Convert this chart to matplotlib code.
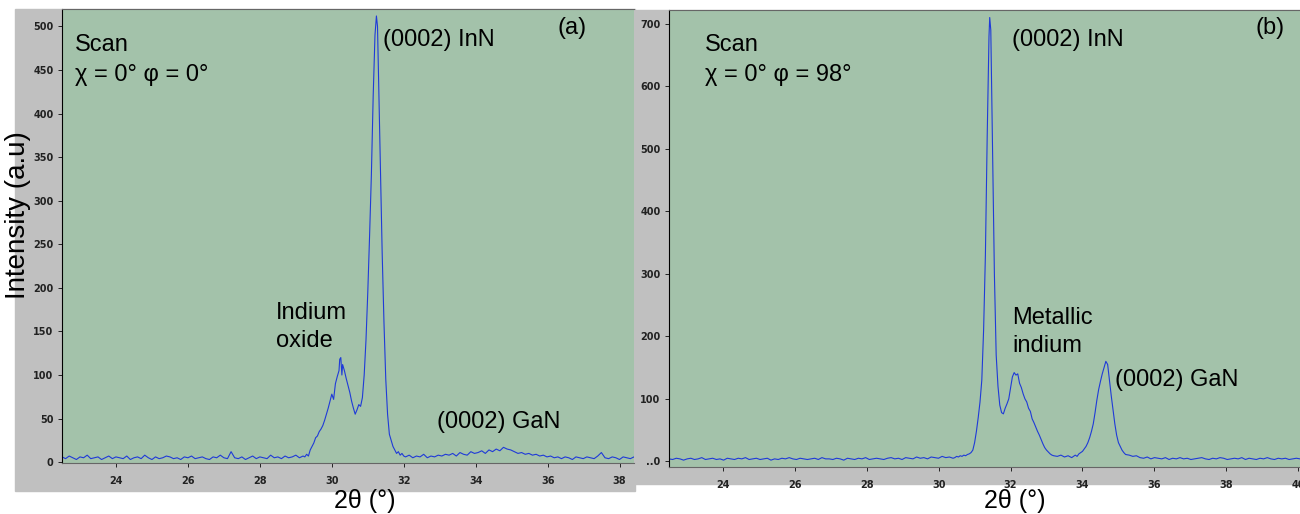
import numpy as np
import matplotlib.pyplot as plt
from matplotlib.patches import Rectangle

# ---- data ----
# panel (a): chi = 0, phi = 0
a_base1_y = [6, 4, 7, 5, 3, 6, 5, 8, 4, 5, 6, 3, 5, 7, 4, 6, 5, 4, 7, 3, 5, 6, 4, 8, 5, 3,
             6, 4, 5, 7, 6, 4, 5, 3, 6, 5, 7, 4, 5, 6, 4, 3, 6, 5, 8, 5, 4, 12, 5, 4, 6, 3,
             5, 7, 4, 6, 5, 4, 8, 5, 6, 4, 7, 5, 6, 8, 5, 7]
a_peak_x = [29.25, 29.3, 29.35, 29.4, 29.45, 29.5, 29.55, 29.6, 29.65, 29.7, 29.75, 29.8,
            29.85, 29.9, 29.95, 30.0, 30.05, 30.1, 30.15, 30.2, 30.22, 30.25, 30.28, 30.3,
            30.35, 30.4, 30.45, 30.5, 30.55, 30.6, 30.65, 30.7, 30.75, 30.8, 30.85, 30.9,
            30.95, 31.0, 31.05, 31.1, 31.15, 31.2, 31.24, 31.27, 31.3, 31.35, 31.4, 31.45,
            31.5, 31.55, 31.6, 31.65, 31.7, 31.75, 31.8, 31.85, 31.9, 31.95, 32.0]
a_peak_y = [6, 9, 7, 14, 18, 22, 28, 30, 35, 38, 42, 48,
            55, 62, 70, 78, 72, 90, 98, 105, 118, 120, 100, 112,
            105, 96, 88, 80, 70, 62, 55, 60, 66, 64, 74, 100,
            140, 195, 260, 330, 420, 490, 512, 500, 440, 340, 240, 160,
            95, 55, 32, 25, 18, 14, 10, 12, 8, 10, 7]
a_base2_y = [6, 8, 5, 7, 6, 9, 5, 7, 6, 8, 7, 9, 8, 10, 7, 11, 9, 8, 12, 10,
             11, 13, 10, 14, 12, 15, 13, 17, 15, 14, 12, 10, 11, 9, 10, 8, 9, 7, 8, 6,
             7, 5, 6, 4, 6, 5, 3, 6, 5, 4, 6, 5, 4, 7, 11, 5, 4, 6, 5, 3, 6, 5, 4, 6]

# panel (b): chi = 0, phi = 98
b_base1_y = [4, 3, 5, 4, 2, 4, 5, 3, 4, 6, 3, 4, 5, 3, 4, 2, 5, 4, 3, 5, 4, 6, 3, 4, 5, 3,
             4, 5, 2, 4, 3, 5, 4, 6, 4, 3, 5, 4, 3, 4, 5, 3, 6, 4, 4, 3, 5, 4, 2, 5, 4, 3,
             5, 4, 6, 3, 4, 5, 4, 3, 5, 6, 4, 5, 3, 6, 5, 4, 7, 5, 6, 4, 7, 6, 5, 8, 6, 7, 5]
b_peak_x = [30.45, 30.5, 30.55, 30.6, 30.65, 30.7, 30.75, 30.8, 30.85, 30.9, 30.95, 31.0,
            31.05, 31.1, 31.15, 31.2, 31.25, 31.3, 31.35, 31.4, 31.42, 31.45, 31.5, 31.55,
            31.6, 31.65, 31.7, 31.75, 31.8, 31.85, 31.9, 31.95, 32.0, 32.05, 32.1, 32.15,
            32.2, 32.25, 32.3, 32.35, 32.4, 32.45, 32.5, 32.55, 32.6, 32.65, 32.7, 32.75,
            32.8, 32.85, 32.9, 32.95, 33.0, 33.05, 33.1, 33.15, 33.2, 33.3, 33.4, 33.5,
            33.6, 33.7, 33.8, 33.85, 33.9, 33.95, 34.0, 34.05, 34.1, 34.15, 34.2, 34.25,
            34.3, 34.35, 34.4, 34.45, 34.5, 34.55, 34.6, 34.65, 34.7, 34.75, 34.8, 34.85,
            34.9, 34.95, 35.0, 35.05, 35.1, 35.15, 35.2, 35.3, 35.4, 35.5, 35.6]
b_peak_y = [6, 8, 7, 9, 8, 10, 9, 11, 12, 14, 18, 30,
            48, 70, 95, 130, 210, 330, 520, 680, 710, 690, 500, 300,
            170, 120, 90, 78, 76, 85, 92, 100, 118, 135, 142, 138,
            140, 125, 118, 108, 100, 95, 85, 80, 68, 62, 55, 48,
            42, 35, 28, 22, 18, 15, 12, 10, 9, 8, 10, 7,
            9, 6, 10, 8, 12, 14, 16, 20, 24, 30, 38, 48,
            60, 78, 98, 115, 128, 140, 150, 160, 155, 130, 105, 82,
            60, 42, 30, 24, 18, 14, 11, 10, 8, 9, 6]
b_base2_y = [5, 7, 4, 6, 5, 4, 6, 3, 5, 4, 6, 4, 5, 3, 4, 5, 6, 4, 3, 5, 4, 6,
             5, 3, 4, 5, 4, 6, 3, 5, 4, 3, 5, 4, 6, 4, 3, 5, 4, 5, 3, 4, 5, 4]

a_x = np.concatenate([np.linspace(22.5, 29.2, len(a_base1_y)), a_peak_x,
                      np.linspace(32.05, 38.4, len(a_base2_y))])
a_y = np.concatenate([a_base1_y, a_peak_y, a_base2_y])
b_x = np.concatenate([np.linspace(22.5, 30.4, len(b_base1_y)), b_peak_x,
                      np.linspace(35.7, 40.05, len(b_base2_y))])
b_y = np.concatenate([b_base1_y, b_peak_y, b_base2_y])

x_ticks = [24, 26, 28, 30, 32, 34, 36, 38, 40]
a_yticks = [0, 50, 100, 150, 200, 250, 300, 350, 400, 450, 500]
b_yticks = [0, 100, 200, 300, 400, 500, 600, 700]
b_yticklabels = ['..0', '100', '200', '300', '400', '500', '600', '700']

GREEN = '#a3c2aa'
GRAY = '#c0c0c0'
BLUE = '#1f3ad8'
W, H = 1300, 514

plt.rcParams['font.family'] = ['Liberation Sans', 'DejaVu Sans']
fig = plt.figure(figsize=(13, 5.14), dpi=100)


def px(x0, y0, x1, y1):
    # pixel box (top-left origin) -> figure fraction rect
    return [x0 / W, 1 - y1 / H, (x1 - x0) / W, (y1 - y0) / H]


# gray frames behind each panel
for box in [(15, 9, 635, 491), (635, 10, 1300, 484)]:
    r = px(*box)
    fig.patches.append(Rectangle((r[0], r[1]), r[2], r[3],
                                 transform=fig.transFigure, color=GRAY, zorder=-5))

ax_a = fig.add_axes(px(62, 9, 634, 463))
ax_b = fig.add_axes(px(669, 10, 1300, 467))

tick_font = {'family': ['DejaVu Sans Condensed', 'DejaVu Sans'],
             'weight': 'bold', 'size': 7}

for ax, x, y in [(ax_a, a_x, a_y), (ax_b, b_x, b_y)]:
    ax.set_zorder(2)
    ax.set_facecolor(GREEN)
    ax.plot(x, y, color=BLUE, lw=0.8)
    ax.set_xticks(x_ticks)
    ax.tick_params(direction='out', length=3, width=0.7, colors='#222222')
    ax.tick_params(axis='x', pad=6)
    ax.tick_params(axis='y', pad=3)
    for s in ['top', 'bottom']:
        ax.spines[s].set_color('#666666')
        ax.spines[s].set_linewidth(0.8)
    ax.spines['left'].set_color('black')
    ax.spines['right'].set_visible(False)

ax_a.set_xlim(22.5, 38.4)
ax_a.set_ylim(-1, 520)
ax_a.set_yticks(a_yticks)
ax_b.set_xlim(22.5, 40.05)
ax_b.set_ylim(-9, 722)
ax_b.set_yticks(b_yticks)
ax_b.set_yticklabels(b_yticklabels)
for ax in (ax_a, ax_b):
    for lab in ax.get_xticklabels() + ax.get_yticklabels():
        lab.set_fontproperties(tick_font)


def t(x, y, s, size=17, **kw):
    fig.text(x / W, 1 - y / H, s, fontsize=size, va='center', **kw)


t(75, 45, 'Scan')
t(75, 75, 'χ = 0° φ = 0°')
t(572, 28, '(a)', ha='center')
t(383, 40, '(0002) InN')
t(276, 313, 'Indium')
t(276, 341, 'oxide')
t(437, 422, '(0002) GaN')

t(705, 45, 'Scan')
t(705, 75, 'χ = 0° φ = 98°')
t(1270, 28, '(b)', ha='center')
t(1012, 40, '(0002) InN')
t(1012, 318, 'Metallic')
t(1012, 346, 'indium')
t(1115, 380, '(0002) GaN')

t(18, 215, 'Intensity (a.u)', size=20, rotation=90, ha='center')
t(365, 501, '2θ (°)', size=18, ha='center')
t(1015, 501, '2θ (°)', size=18, ha='center')

fig.savefig('out.png', dpi=100, facecolor='white')
